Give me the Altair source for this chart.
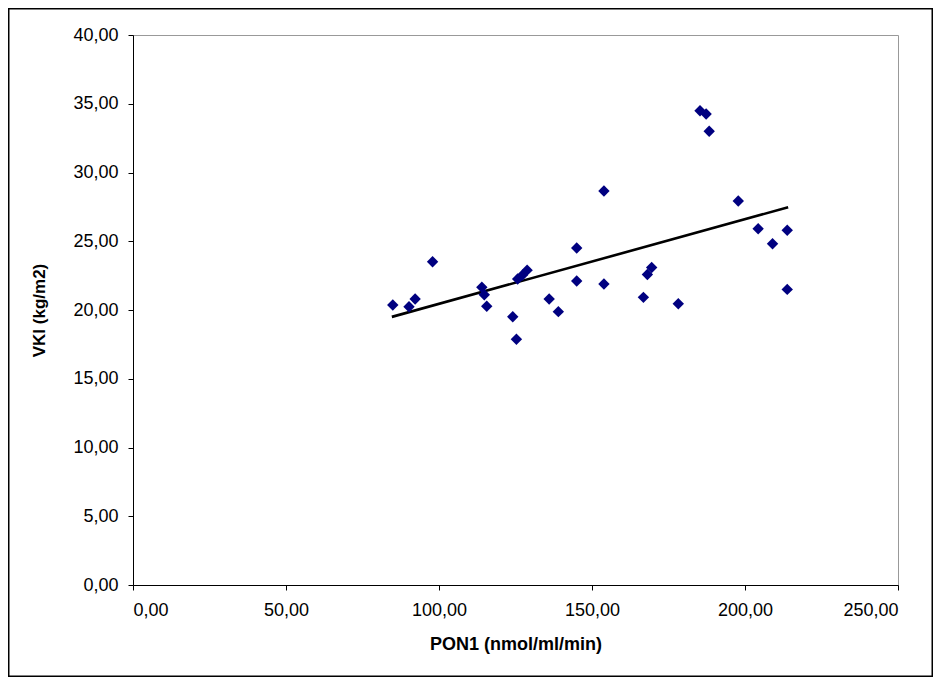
import altair as alt
import pandas as pd

pon1 = [84.9, 90.2, 92.2, 97.9, 114.0, 114.8, 115.6, 124.1, 125.3, 125.7,
        127.3, 128.8, 136.0, 139.0, 145.0, 145.0, 153.9, 153.9, 166.8, 168.1,
        169.5, 178.2, 185.3, 187.3, 188.3, 197.8, 204.3, 209.0, 213.8, 213.8]
vki = [20.36, 20.24, 20.8, 23.51, 21.65, 21.11, 20.27, 19.51, 17.87, 22.25,
       22.55, 22.9, 20.8, 19.88, 24.51, 22.11, 21.89, 28.65, 20.92, 22.58,
       23.09, 20.46, 34.49, 34.25, 33.0, 27.93, 25.91, 24.82, 25.8, 21.5]
trend_x = [84.6, 214.1]
trend_y = [19.5, 27.47]
x_ticks = [0, 50, 100, 150, 200, 250]
y_ticks = [0, 5, 10, 15, 20, 25, 30, 35, 40]

pts = pd.DataFrame({"PON1": pon1, "VKI": vki})
trend = pd.DataFrame({"PON1": trend_x, "VKI": trend_y})

W, H = 765, 550
FONT = "Liberation Sans"
label_expr = "replace(format(datum.value, '.2f'), '.', ',')"

xs = alt.Scale(domain=[0, 250], nice=False)
ys = alt.Scale(domain=[0, 40], nice=False)

xaxis = alt.Axis(
    title="PON1 (nmol/ml/min)", values=x_ticks, labelExpr=label_expr,
    grid=False, tickSize=5, labelPadding=11, labelFontSize=18,
    labelFont=FONT, labelColor="#000000", domainColor="#000000",
    tickColor="#000000", titleFont=FONT, titleFontSize=18,
    titleFontWeight="bold", titleColor="#000000",
    titleX=W / 2, titleY=59, titleBaseline="middle", titleAlign="center",
)
yaxis = alt.Axis(
    title="VKI (kg/m2)", values=y_ticks, labelExpr=label_expr,
    grid=False, tickSize=5, labelPadding=10, labelFontSize=18,
    labelFont=FONT, labelColor="#000000", domainColor="#000000",
    tickColor="#000000", titleFont=FONT, titleFontSize=17,
    titleFontWeight="bold", titleColor="#000000",
    titleX=-94, titleY=H / 2, titleAngle=-90, titleBaseline="middle",
    titleAlign="center",
)

points = alt.Chart(pts).mark_point(
    shape="diamond", filled=True, size=130, color="#000080", opacity=1
).encode(
    x=alt.X("PON1:Q", scale=xs, axis=xaxis),
    y=alt.Y("VKI:Q", scale=ys, axis=yaxis),
)

line = alt.Chart(trend).mark_line(color="#000000", strokeWidth=2.6).encode(
    x=alt.X("PON1:Q", scale=xs),
    y=alt.Y("VKI:Q", scale=ys),
)

border = alt.Chart(pd.DataFrame({"a": [0]})).mark_rect(
    fill=None, fillOpacity=0, stroke="#000000", strokeWidth=1.5
).encode(
    x=alt.value(-124.25), x2=alt.value(W + 34.25),
    y=alt.value(-26.25), y2=alt.value(H + 91.25),
)

chart = alt.layer(line, points, border).properties(
    width=W, height=H,
    autosize=alt.AutoSizeParams(type="none"),
    padding={"left": 125, "top": 27, "right": 35, "bottom": 92},
    background="#ffffff",
).configure_view(stroke="#999999", strokeWidth=1)

chart.save("out.html", embed_options={"renderer": "svg", "actions": False})
